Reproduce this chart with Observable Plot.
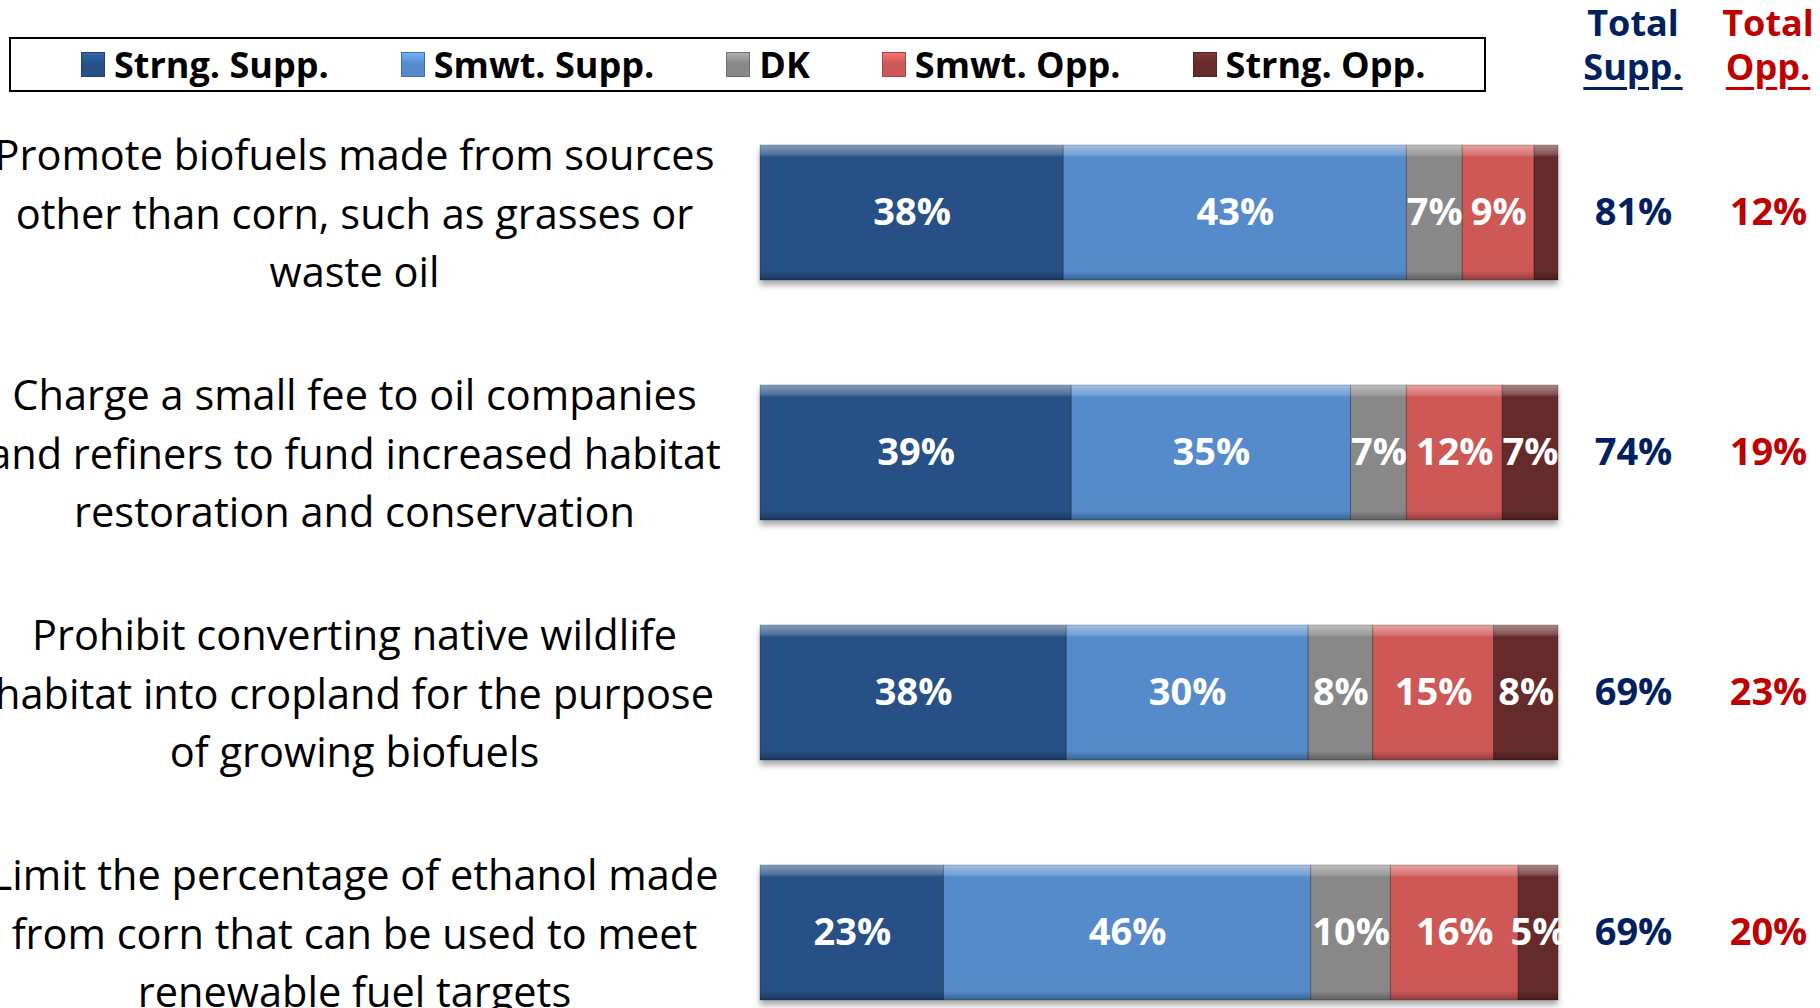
<!DOCTYPE html>
<html>
<head>
<meta charset="utf-8">
<script src="https://cdn.jsdelivr.net/npm/d3@7"></script>
<script src="https://cdn.jsdelivr.net/npm/@observablehq/plot@0.6"></script>
<style>
  html, body { margin: 0; padding: 0; background: #fff; }
  body { width: 1820px; height: 1008px; overflow: hidden; font-family: "Open Sans", sans-serif; }
  #top { position: relative; height: 100px; }
  #legend { position: absolute; left: 9px; top: 37px; width: 1477px; height: 55px; border: 2px solid #000;
            display: flex; align-items: center; gap: 72px; padding-left: 70px; box-sizing: border-box; }
  .item { display: flex; align-items: center; gap: 9px; font-weight: 700; font-size: 36px; color: #000; white-space: nowrap; }
  .sw { width: 24px; height: 25px; box-sizing: border-box; }
  .hdr { position: absolute; top: 1px; transform: translateX(-50%); font-weight: 700; font-size: 36px;
         line-height: 44px; text-align: center; }
  .hdr u { text-decoration-thickness: 3px; text-underline-offset: 7px; }
  #chart svg { display: block; }
</style>
</head>
<body>
<svg width="0" height="0" style="position:absolute">
  <defs>
    <linearGradient id="bevel" x1="0" y1="0" x2="0" y2="1">
      <stop offset="0" stop-color="#fff" stop-opacity="0.45"/>
      <stop offset="0.07" stop-color="#fff" stop-opacity="0.18"/>
      <stop offset="0.09" stop-color="#fff" stop-opacity="0"/>
      <stop offset="0.93" stop-color="#000" stop-opacity="0"/>
      <stop offset="0.96" stop-color="#000" stop-opacity="0.12"/>
      <stop offset="1" stop-color="#000" stop-opacity="0.3"/>
    </linearGradient>
  </defs>
</svg>
<div id="top">
  <div id="legend"></div>
  <div class="hdr" style="left:1633px;color:#002060">Total<br><u>Supp.</u></div>
  <div class="hdr" style="left:1768px;color:#C00000">Total<br><u>Opp.</u></div>
</div>
<div id="chart"></div>
<script>
const questions = ["Q1", "Q2", "Q3", "Q4"];
const questionLabels = [
  "Promote biofuels made from sources\nother than corn, such as grasses or\nwaste oil",
  "Charge a small fee to oil companies\nand refiners to fund increased habitat\nrestoration and conservation",
  "Prohibit converting native wildlife\nhabitat into cropland for the purpose\nof growing biofuels",
  "Limit the percentage of ethanol made\nfrom corn that can be used to meet\nrenewable fuel targets"
];
const categories = ["Strng. Supp.", "Smwt. Supp.", "DK", "Smwt. Opp.", "Strng. Opp."];
const colors = ["#265086", "#568BCB", "#888888", "#CD5856", "#652A2A"];
const strngSupp = [38, 39, 38, 23];
const smwtSupp  = [43, 35, 30, 46];
const dk        = [7, 7, 8, 10];
const smwtOpp   = [9, 12, 15, 16];
const strngOpp  = [3, 7, 8, 5];
const totalSupp = [81, 74, 69, 69];
const totalOpp  = [12, 19, 23, 20];

const series = [strngSupp, smwtSupp, dk, smwtOpp, strngOpp];
const rows = questions.flatMap((q, i) => categories.map((c, j) => ({question: q, category: c, value: series[j][i]})));
const labelOf = Object.fromEntries(questions.map((q, i) => [q, questionLabels[i]]));

// legend
const legend = document.getElementById("legend");
categories.forEach((c, i) => {
  const col = d3.color(colors[i]);
  const item = document.createElement("div");
  item.className = "item";
  const sw = document.createElement("div");
  sw.className = "sw";
  sw.style.background = `linear-gradient(to bottom, ${col.brighter(0.7)} 0%, ${col} 45%, ${col} 100%)`;
  sw.style.border = `1px solid ${col.darker(0.6)}`;
  const t = document.createElement("span");
  t.textContent = c;
  item.append(sw, t);
  legend.append(item);
});

const stackOpts = {offset: "normalize", x: "value", y: "question"};
const chart = Plot.plot({
  width: 1820, height: 908,
  marginLeft: 760, marginRight: 262, marginTop: 0, marginBottom: 0,
  style: {fontFamily: "'Open Sans', sans-serif", color: "#000", background: "transparent"},
  x: {domain: [0, 1], axis: null},
  y: {domain: questions, range: [0, 945], paddingInner: 0.4375, paddingOuter: 0.1875, label: null},
  color: {domain: categories, range: colors},
  marks: [
    Plot.barX(rows, Plot.stackX({...stackOpts, fill: "category"})),
    Plot.barX(rows, Plot.stackX({...stackOpts, fill: "url(#bevel)", stroke: "rgba(0,0,0,0.22)", strokeWidth: 1})),
    Plot.text(rows, Plot.stackX({...stackOpts, z: "category",
      text: d => d.value >= 4 ? d.value + "%" : null,
      fill: "white", fontSize: 38, fontWeight: 700})),
    Plot.axisY({tickSize: 0, tickPadding: 0, textAnchor: "middle", dx: -406, dy: -3, label: null,
      tickFormat: q => labelOf[q], fontSize: 41.5, lineHeight: 1.41, fill: "#000"}),
    Plot.text(questions, {y: d => d, text: (d, i) => totalSupp[i] + "%", frameAnchor: "right", dx: 75,
      textAnchor: "middle", fill: "#002060", fontSize: 38, fontWeight: 700}),
    Plot.text(questions, {y: d => d, text: (d, i) => totalOpp[i] + "%", frameAnchor: "right", dx: 210,
      textAnchor: "middle", fill: "#C00000", fontSize: 38, fontWeight: 700})
  ]
});
document.getElementById("chart").append(chart);
d3.select(chart).style("overflow", "hidden");
const barGroups = d3.select(chart).selectAll("g[aria-label='bar']");
barGroups.filter((d, i) => i === 0).style("filter", "drop-shadow(0px 5px 3px rgba(0,0,0,0.35))");
</script>
</body>
</html>
